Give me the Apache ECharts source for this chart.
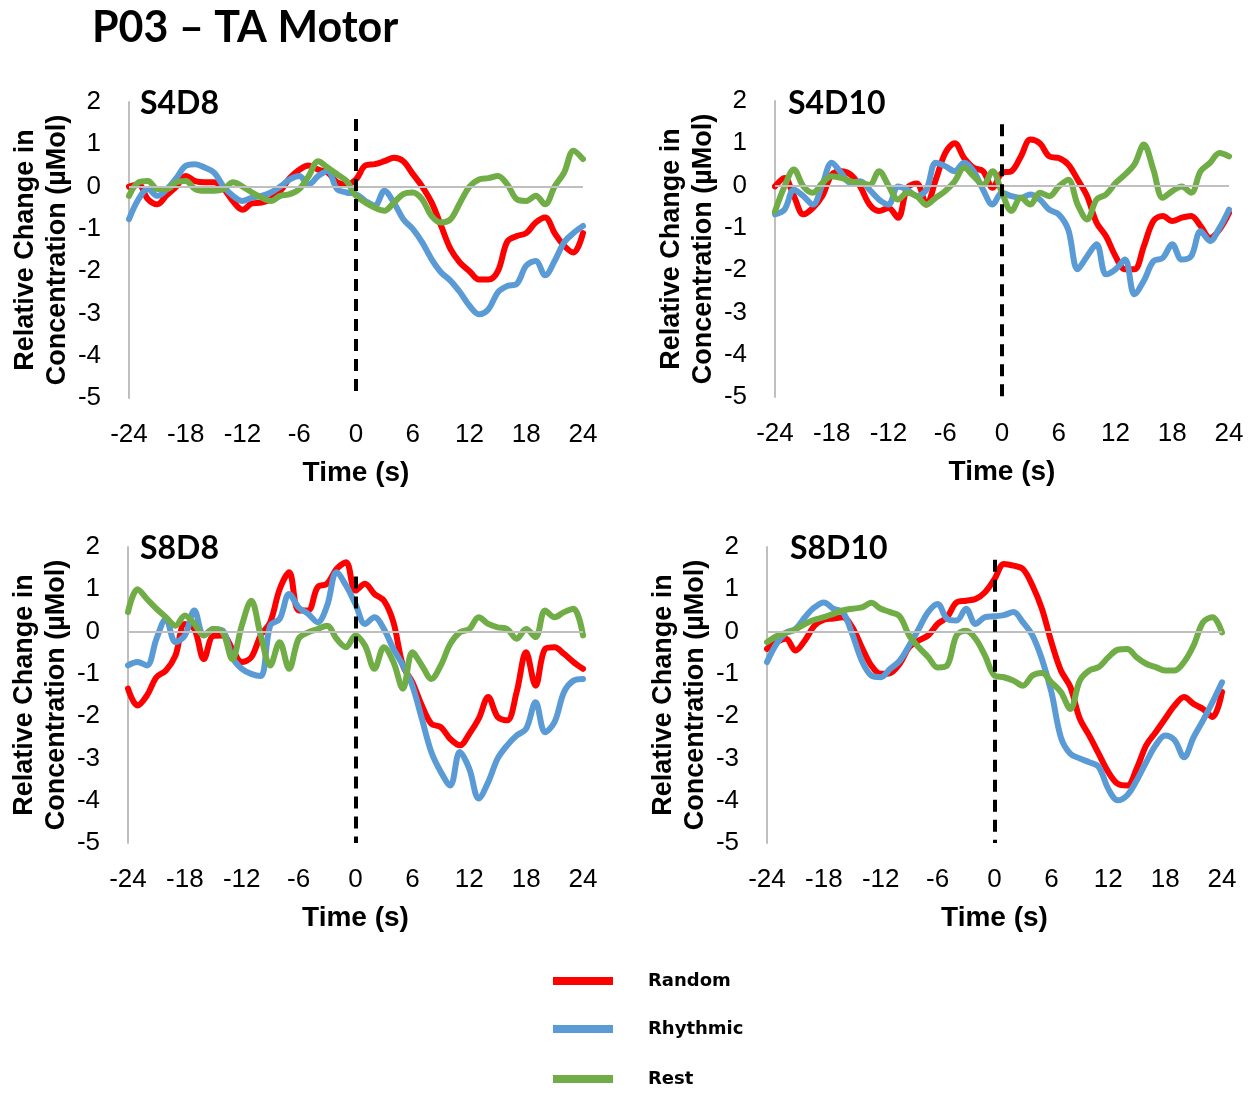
<!DOCTYPE html>
<html>
<head>
<meta charset="utf-8">
<title>P03 – TA Motor</title>
<script src="https://cdn.jsdelivr.net/npm/echarts@6/dist/echarts.min.js"></script>
<style>
  html, body { margin: 0; padding: 0; background: #ffffff; }
  #chart { width: 1255px; height: 1093px; }
</style>
</head>
<body>
<div id="chart"></div>
<script>
// Time relative to movement onset, seconds
const timeSec = [-24, -23, -22, -21, -20, -19, -18, -17, -16, -15,
                 -14, -13, -12, -11, -10, -9, -8, -7, -6, -5,
                 -4, -3, -2, -1, 0, 1, 2, 3, 4, 5,
                 6, 7, 8, 9, 10, 11, 12, 13, 14, 15,
                 16, 17, 18, 19, 20, 21, 22, 23, 24];

const channelNames = ['S4D8', 'S4D10', 'S8D8', 'S8D10'];
const conditionNames = ['Random', 'Rhythmic', 'Rest'];

// Relative change in concentration (µMol), one value per second
const s4d8Random = [0.0, 0.05, -0.3, -0.42, -0.2, 0.0, 0.25, 0.13, 0.1, 0.1,
  -0.05, -0.35, -0.55, -0.4, -0.38, -0.3, -0.1, 0.2, 0.4, 0.5,
  0.4, 0.33, 0.1, 0.05, 0.17, 0.5, 0.53, 0.6, 0.68, 0.6,
  0.3, 0.0, -0.38, -0.93, -1.48, -1.8, -2.0, -2.2, -2.2, -2.0,
  -1.3, -1.17, -1.1, -0.85, -0.73, -1.1, -1.4, -1.56, -1.1];
const s4d8Rhythmic = [-0.77, -0.3, -0.06, -0.22, -0.06, 0.2, 0.49, 0.53, 0.45, 0.33,
  0.0, -0.22, -0.34, -0.26, -0.22, -0.14, 0.0, 0.17, 0.25, 0.05,
  0.25, 0.37, -0.06, -0.14, -0.18, -0.34, -0.45, -0.1, -0.38, -0.77,
  -1.0, -1.32, -1.72, -2.03, -2.23, -2.5, -2.82, -3.02, -2.9, -2.5,
  -2.35, -2.3, -1.87, -1.76, -2.1, -1.76, -1.32, -1.1, -0.93];
const s4d8Rest = [-0.22, 0.1, 0.13, -0.06, -0.06, 0.1, 0.13, -0.06, -0.1, -0.1,
  -0.06, 0.1, 0.0, -0.14, -0.26, -0.34, -0.22, -0.18, -0.06, 0.25,
  0.6, 0.45, 0.29, 0.13, -0.22, -0.38, -0.5, -0.57, -0.38, -0.18,
  -0.14, -0.3, -0.7, -0.85, -0.77, -0.38, 0.0, 0.17, 0.2, 0.25,
  0.05, -0.3, -0.34, -0.22, -0.42, 0.0, 0.33, 0.85, 0.65];

const s4d10Random = [-0.02, 0.18, -0.25, -0.68, -0.53, -0.25, 0.26, 0.34, 0.26, -0.02,
  -0.45, -0.6, -0.53, -0.76, -0.05, 0.05, -0.45, 0.14, 0.77, 1.0,
  0.65, 0.42, 0.34, -0.05, 0.3, 0.34, 0.69, 1.09, 1.0, 0.69,
  0.65, 0.5, 0.14, -0.25, -0.88, -1.2, -1.67, -1.98, -1.98, -1.43,
  -0.84, -0.72, -0.84, -0.76, -0.72, -0.96, -1.24, -1.04, -0.65];
const s4d10Rhythmic = [-0.68, -0.57, -0.1, -0.25, -0.45, 0.02, 0.54, 0.3, 0.06, 0.1,
  -0.1, -0.33, -0.45, -0.02, -0.1, -0.25, -0.1, 0.54, 0.46, 0.34,
  0.54, 0.34, -0.1, -0.45, -0.17, -0.25, -0.29, -0.21, -0.33, -0.57,
  -0.68, -1.04, -1.98, -1.67, -1.39, -2.1, -1.98, -1.75, -2.57, -2.25,
  -1.79, -1.71, -1.39, -1.75, -1.67, -1.08, -1.31, -1.0, -0.57];
const s4d10Rest = [-0.61, -0.02, 0.38, -0.02, -0.17, 0.06, 0.22, 0.18, 0.1, 0.06,
  0.02, 0.34, 0.0, -0.33, -0.17, -0.25, -0.45, -0.29, -0.13, 0.1,
  0.42, 0.22, 0.02, 0.34, -0.17, -0.6, -0.29, -0.45, -0.17, -0.25,
  -0.02, 0.14, -0.45, -0.8, -0.33, -0.21, 0.06, 0.26, 0.5, 0.97,
  0.38, -0.29, -0.13, -0.02, -0.17, 0.34, 0.54, 0.77, 0.69];

const s8d8Random = [-1.35, -1.75, -1.51, -1.08, -0.92, -0.57, 0.18, 0.06, -0.65, -0.1,
  -0.09, -0.41, -0.72, -0.61, -0.09, 0.22, 1.0, 1.4, 0.5, 0.5,
  1.05, 1.13, 1.48, 1.64, 0.97, 1.13, 0.89, 0.73, 0.22, -0.8,
  -1.2, -1.75, -2.18, -2.26, -2.54, -2.69, -2.42, -2.06, -1.55, -2.02,
  -2.1, -1.43, -0.49, -1.28, -0.41, -0.37, -0.53, -0.72, -0.88];
const s8d8Rhythmic = [-0.8, -0.72, -0.8, -0.17, 0.3, -0.25, -0.09, 0.5, -0.09, 0.06,
  0.02, -0.61, -0.88, -1.0, -1.05, 0.14, 0.3, 0.89, 0.57, 0.42,
  0.22, 0.61, 1.4, 1.09, 0.65, 0.18, 0.34, 0.06, -0.41, -0.8,
  -1.28, -2.06, -2.85, -3.32, -3.64, -2.85, -3.24, -3.95, -3.56, -3.0,
  -2.69, -2.46, -2.3, -1.67, -2.38, -2.14, -1.43, -1.16, -1.12];
const s8d8Rest = [0.46, 1.0, 0.77, 0.54, 0.34, 0.14, 0.38, 0.18, -0.09, 0.06,
  -0.02, -0.65, 0.14, 0.73, -0.09, -0.8, -0.25, -0.88, -0.17, -0.02,
  0.06, 0.14, -0.17, -0.37, -0.09, -0.33, -0.88, -0.37, -0.72, -1.35,
  -0.49, -0.8, -1.12, -0.8, -0.29, -0.02, 0.06, 0.34, 0.18, 0.1,
  0.06, -0.17, 0.06, -0.13, 0.5, 0.34, 0.46, 0.54, -0.09];

const s8d10Random = [-0.41, -0.25, -0.17, -0.45, -0.21, 0.14, 0.28, 0.31, 0.34, 0.1,
  -0.37, -0.8, -1.0, -0.98, -0.76, -0.37, -0.21, -0.09, 0.18, 0.34,
  0.69, 0.73, 0.77, 0.93, 1.24, 1.6, 1.56, 1.48, 1.09, 0.54,
  -0.25, -0.92, -1.31, -2.06, -2.46, -2.89, -3.32, -3.6, -3.64, -3.24,
  -2.69, -2.38, -2.06, -1.75, -1.55, -1.71, -1.83, -2.02, -1.43];
const s8d10Rhythmic = [-0.72, -0.29, -0.03, 0.06, 0.34, 0.57, 0.69, 0.54, 0.46, -0.06,
  -0.69, -1.04, -1.08, -0.88, -0.69, -0.33, 0.06, 0.46, 0.65, 0.3,
  0.26, 0.54, 0.18, 0.34, 0.36, 0.39, 0.46, 0.22, -0.09, -0.65,
  -1.43, -2.5, -2.89, -3.0, -3.09, -3.2, -3.72, -3.99, -3.87, -3.52,
  -3.09, -2.69, -2.46, -2.57, -2.97, -2.5, -2.1, -1.67, -1.2];
const s8d10Rest = [-0.25, -0.11, -0.03, 0.05, 0.18, 0.28, 0.34, 0.42, 0.5, 0.54,
  0.57, 0.68, 0.54, 0.46, 0.36, -0.09, -0.37, -0.6, -0.85, -0.8,
  -0.09, 0.02, -0.17, -0.57, -1.04, -1.08, -1.16, -1.28, -1.04, -0.98,
  -1.2, -1.43, -1.83, -1.16, -0.92, -0.84, -0.61, -0.43, -0.41, -0.61,
  -0.76, -0.84, -0.92, -0.92, -0.72, -0.33, 0.22, 0.34, -0.02];

// Upper end of the dashed onset marker in each panel (µMol)
const onsetMarkerTop = [1.6, 1.45, 1.3, 1.7];

const panelSeries = [
  [s4d8Random, s4d8Rhythmic, s4d8Rest],
  [s4d10Random, s4d10Rhythmic, s4d10Rest],
  [s8d8Random, s8d8Rhythmic, s8d8Rest],
  [s8d10Random, s8d10Rhythmic, s8d10Rest]
];

// ---- layout & styling ----
const conditionColors = ['#ff0000', '#5b9bd5', '#70ad47'];
const gridBoxes = [
  { left: 129, top: 102, width: 454, height: 296 },
  { left: 775, top: 101, width: 454, height: 296 },
  { left: 128, top: 547, width: 455, height: 296 },
  { left: 767, top: 547, width: 455, height: 296 }
];
const panelTitlePos = [
  { left: 135, top: 83 },
  { left: 783, top: 83 },
  { left: 135, top: 528 },
  { left: 785, top: 528 }
];
const legendRowTop = [971, 1019, 1069];

const tickFont = { fontFamily: 'Liberation Sans', fontSize: 26, color: '#000000' };

const titles = [{
  text: 'P03 – TA Motor',
  left: 87, top: 2,
  textStyle: { fontFamily: 'Lato', fontWeight: 'bold', fontSize: 43, color: '#000000' }
}];
channelNames.forEach((name, i) => {
  titles.push({
    text: name,
    left: panelTitlePos[i].left, top: panelTitlePos[i].top,
    textStyle: { fontFamily: 'Lato', fontWeight: 'bold', fontSize: 32, color: '#000000' }
  });
});

const grids = [], xAxes = [], yAxes = [], series = [];
panelSeries.forEach((group, i) => {
  grids.push(Object.assign({ containLabel: false }, gridBoxes[i]));
  xAxes.push({
    gridIndex: i, type: 'value', min: -24, max: 24, interval: 6,
    axisLine: { show: false, onZero: false },
    axisTick: { show: false },
    splitLine: { show: false },
    axisLabel: Object.assign({ margin: 24 }, tickFont),
    name: 'Time (s)', nameLocation: 'middle', nameGap: 61,
    nameTextStyle: { fontFamily: 'Liberation Sans', fontSize: 28, fontWeight: 'bold', color: '#000000' }
  });
  yAxes.push({
    gridIndex: i, type: 'value', min: -5, max: 2, interval: 1,
    axisLine: { show: true, onZero: false, lineStyle: { color: '#bfbfbf', width: 2 } },
    axisTick: { show: false },
    splitLine: { show: false },
    axisLabel: Object.assign({ margin: 28, padding: [6, 0, 0, 0] }, tickFont),
    name: 'Relative Change in\nConcentration (µMol)',
    nameLocation: 'middle', nameRotate: 90, nameGap: 55,
    nameTextStyle: {
      fontFamily: 'Liberation Sans', fontSize: 27, fontWeight: 'bold', color: '#000000',
      lineHeight: 32
    }
  });

  // horizontal zero reference
  series.push({
    type: 'line', xAxisIndex: i, yAxisIndex: i, data: [], silent: true, z: 1,
    markLine: {
      silent: true, symbol: 'none', label: { show: false }, animation: false,
      lineStyle: { color: '#bfbfbf', width: 2, type: 'solid' },
      data: [{ yAxis: 0 }]
    }
  });

  group.forEach((values, k) => {
    series.push({
      name: conditionNames[k],
      type: 'line',
      xAxisIndex: i, yAxisIndex: i,
      data: timeSec.map((t, j) => [t, values[j]]),
      smooth: 0.35,
      showSymbol: false, symbol: 'none',
      lineStyle: { color: conditionColors[k], width: 6, cap: 'round', join: 'round' },
      itemStyle: { color: conditionColors[k] },
      z: 2 + k
    });
  });

  // dashed onset marker at t = 0
  series.push({
    type: 'line', xAxisIndex: i, yAxisIndex: i, data: [], silent: true, z: 10,
    markLine: {
      silent: true, symbol: 'none', label: { show: false }, animation: false,
      lineStyle: { color: '#000000', width: 4, type: [12, 8] },
      data: [[{ coord: [0, onsetMarkerTop[i]] }, { coord: [0, -5] }]]
    }
  });
});

// one legend block per condition, stacked vertically
const legends = conditionNames.map((name, k) => ({
  data: [name],
  orient: 'vertical',
  left: 553, top: legendRowTop[k],
  padding: 0,
  icon: 'rect',
  itemWidth: 60, itemHeight: 8,
  selectedMode: false,
  textStyle: {
    fontFamily: 'DejaVu Sans', fontWeight: 'bold', fontSize: 18,
    color: '#000000', lineHeight: 20, padding: [0, 0, 0, 30]
  }
}));

const chart = echarts.init(document.getElementById('chart'), null, { renderer: 'canvas' });
chart.setOption({
  animation: false,
  backgroundColor: '#ffffff',
  title: titles,
  grid: grids,
  xAxis: xAxes,
  yAxis: yAxes,
  series: series,
  legend: legends
});
</script>
</body>
</html>
